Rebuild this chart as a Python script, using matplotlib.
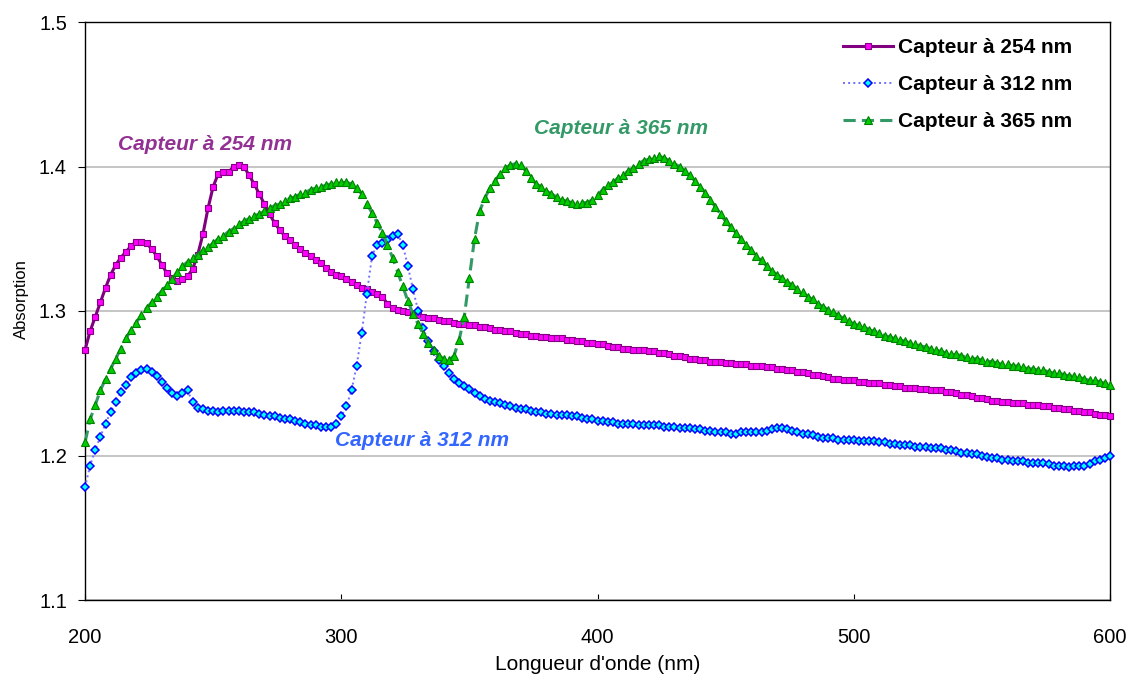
import numpy as np
import matplotlib
matplotlib.use("Agg")
import matplotlib.pyplot as plt

plt.rcParams['font.family'] = ['Liberation Sans', 'DejaVu Sans']

# longueurs d'onde (nm), un point tous les 2 nm
longueur = np.arange(200, 601, 2)

# Capteur à 254 nm
capteur_254 = [
    1.273, 1.286, 1.296, 1.306, 1.316, 1.325, 1.332, 1.337, 1.341, 1.345,
    1.348, 1.348, 1.347, 1.343, 1.338, 1.332, 1.326, 1.323, 1.321, 1.322,
    1.324, 1.329, 1.339, 1.353, 1.371, 1.386, 1.395, 1.396, 1.396, 1.400,
    1.401, 1.400, 1.394, 1.388, 1.381, 1.374, 1.367, 1.361, 1.356, 1.352,
    1.349, 1.346, 1.343, 1.340, 1.338, 1.335, 1.333, 1.330, 1.327, 1.325,
    1.324, 1.322, 1.320, 1.318, 1.316, 1.315, 1.313, 1.312, 1.310, 1.305,
    1.302, 1.301, 1.300, 1.299, 1.298, 1.297, 1.296, 1.295, 1.295, 1.294,
    1.293, 1.293, 1.292, 1.291, 1.291, 1.290, 1.290, 1.289, 1.289, 1.288,
    1.287, 1.287, 1.286, 1.286, 1.285, 1.284, 1.284, 1.283, 1.283, 1.282,
    1.282, 1.281, 1.281, 1.281, 1.280, 1.280, 1.279, 1.279, 1.278, 1.278,
    1.277, 1.277, 1.276, 1.275, 1.275, 1.274, 1.274, 1.273, 1.273, 1.273,
    1.272, 1.272, 1.271, 1.271, 1.270, 1.269, 1.269, 1.268, 1.267, 1.267,
    1.266, 1.266, 1.265, 1.265, 1.265, 1.264, 1.264, 1.263, 1.263, 1.263,
    1.262, 1.262, 1.262, 1.261, 1.261, 1.260, 1.260, 1.259, 1.259, 1.258,
    1.258, 1.257, 1.256, 1.256, 1.255, 1.254, 1.253, 1.253, 1.252, 1.252,
    1.252, 1.251, 1.251, 1.250, 1.250, 1.250, 1.249, 1.249, 1.248, 1.248,
    1.247, 1.247, 1.247, 1.246, 1.246, 1.245, 1.245, 1.245, 1.244, 1.244,
    1.243, 1.242, 1.242, 1.241, 1.240, 1.240, 1.239, 1.238, 1.238, 1.237,
    1.237, 1.236, 1.236, 1.236, 1.235, 1.235, 1.235, 1.234, 1.234, 1.233,
    1.233, 1.232, 1.232, 1.231, 1.231, 1.230, 1.230, 1.229, 1.228, 1.228,
    1.227,
]

# Capteur à 312 nm
capteur_312 = [
    1.178, 1.193, 1.204, 1.213, 1.222, 1.230, 1.237, 1.244, 1.249, 1.254,
    1.257, 1.259, 1.260, 1.258, 1.255, 1.251, 1.247, 1.243, 1.241, 1.243,
    1.245, 1.237, 1.233, 1.232, 1.231, 1.231, 1.230, 1.231, 1.231, 1.231,
    1.231, 1.230, 1.230, 1.230, 1.229, 1.228, 1.227, 1.227, 1.226, 1.225,
    1.225, 1.224, 1.223, 1.222, 1.221, 1.221, 1.220, 1.220, 1.220, 1.222,
    1.227, 1.234, 1.245, 1.262, 1.285, 1.312, 1.338, 1.346, 1.347, 1.349,
    1.352, 1.353, 1.346, 1.331, 1.315, 1.300, 1.288, 1.279, 1.272, 1.266,
    1.262, 1.257, 1.253, 1.250, 1.248, 1.246, 1.243, 1.241, 1.239, 1.238,
    1.237, 1.236, 1.235, 1.234, 1.233, 1.232, 1.232, 1.231, 1.230, 1.230,
    1.229, 1.229, 1.228, 1.228, 1.228, 1.227, 1.227, 1.226, 1.225, 1.225,
    1.224, 1.224, 1.223, 1.223, 1.222, 1.222, 1.222, 1.222, 1.221, 1.221,
    1.221, 1.221, 1.221, 1.220, 1.220, 1.220, 1.219, 1.219, 1.219, 1.218,
    1.218, 1.217, 1.217, 1.216, 1.216, 1.216, 1.215, 1.215, 1.216, 1.216,
    1.216, 1.216, 1.216, 1.217, 1.218, 1.219, 1.219, 1.218, 1.217, 1.216,
    1.215, 1.215, 1.214, 1.213, 1.212, 1.212, 1.212, 1.211, 1.211, 1.211,
    1.211, 1.210, 1.210, 1.210, 1.210, 1.209, 1.209, 1.208, 1.208, 1.207,
    1.207, 1.207, 1.206, 1.206, 1.206, 1.205, 1.205, 1.205, 1.204, 1.204,
    1.203, 1.202, 1.202, 1.201, 1.201, 1.200, 1.199, 1.198, 1.198, 1.197,
    1.197, 1.196, 1.196, 1.196, 1.195, 1.195, 1.195, 1.195, 1.194, 1.193,
    1.193, 1.193, 1.192, 1.193, 1.193, 1.193, 1.194, 1.196, 1.197, 1.198,
    1.200,
]

# Capteur à 365 nm
capteur_365 = [
    1.209, 1.225, 1.235, 1.245, 1.253, 1.260, 1.267, 1.274, 1.281, 1.287,
    1.292, 1.297, 1.302, 1.306, 1.310, 1.314, 1.318, 1.322, 1.327, 1.331,
    1.334, 1.337, 1.339, 1.342, 1.344, 1.347, 1.350, 1.352, 1.355, 1.357,
    1.360, 1.362, 1.364, 1.366, 1.367, 1.369, 1.371, 1.373, 1.374, 1.376,
    1.378, 1.379, 1.381, 1.382, 1.384, 1.385, 1.386, 1.387, 1.388, 1.389,
    1.389, 1.389, 1.388, 1.385, 1.381, 1.374, 1.368, 1.361, 1.354, 1.346,
    1.337, 1.327, 1.317, 1.307, 1.298, 1.291, 1.284, 1.278, 1.273, 1.269,
    1.267, 1.266, 1.269, 1.280, 1.296, 1.323, 1.350, 1.369, 1.378, 1.385,
    1.390, 1.395, 1.399, 1.401, 1.402, 1.401, 1.397, 1.392, 1.388, 1.386,
    1.383, 1.381, 1.379, 1.377, 1.376, 1.375, 1.374, 1.375, 1.375, 1.377,
    1.380, 1.384, 1.387, 1.389, 1.392, 1.394, 1.397, 1.399, 1.402, 1.404,
    1.405, 1.406, 1.407, 1.406, 1.404, 1.402, 1.400, 1.397, 1.394, 1.390,
    1.386, 1.382, 1.377, 1.372, 1.367, 1.362, 1.358, 1.354, 1.350, 1.346,
    1.342, 1.338, 1.335, 1.331, 1.328, 1.325, 1.323, 1.320, 1.318, 1.315,
    1.313, 1.310, 1.308, 1.305, 1.303, 1.301, 1.299, 1.297, 1.295, 1.293,
    1.291, 1.290, 1.289, 1.287, 1.286, 1.285, 1.283, 1.282, 1.281, 1.280,
    1.279, 1.278, 1.277, 1.276, 1.275, 1.274, 1.273, 1.272, 1.271, 1.270,
    1.270, 1.269, 1.268, 1.267, 1.267, 1.266, 1.265, 1.265, 1.264, 1.263,
    1.263, 1.262, 1.262, 1.261, 1.260, 1.260, 1.259, 1.259, 1.258, 1.257,
    1.257, 1.256, 1.255, 1.255, 1.254, 1.253, 1.252, 1.252, 1.251, 1.250,
    1.249,
]

noms = ["Capteur à 254 nm", "Capteur à 312 nm", "Capteur à 365 nm"]

fig = plt.figure(figsize=(11.3, 6.74), dpi=100)
ax = fig.add_axes([85 / 1130, 1 - 600 / 674, 1025 / 1130, 578 / 674])

ax.plot(longueur, capteur_254, color='#800080', lw=2.2, marker='s', ms=5,
        mfc='#FF00FF', mec='#800080', mew=0.8, label=noms[0], clip_on=False, zorder=3)
ax.plot(longueur, capteur_312, color='#7070FF', lw=1.4, ls=':', marker='D', ms=4,
        mfc='#00FFFF', mec='#0000FF', mew=1.1, label=noms[1], clip_on=False, zorder=4)
ax.plot(longueur, capteur_365, color='#339966', lw=2.2, ls=(0, (4, 2)), marker='^', ms=5.6,
        mfc='#00CC00', mec='#008000', mew=0.8, label=noms[2], clip_on=False, zorder=5)

ax.set_xlim(200, 600)
ax.set_ylim(1.1, 1.5)
ax.set_xticks([200, 300, 400, 500, 600])
ax.set_yticks([1.1, 1.2, 1.3, 1.4, 1.5])
ax.set_yticklabels(["1.1", "1.2", "1.3", "1.4", "1.5"])
ax.grid(axis='y', color='#C0C0C0', lw=1.3)
ax.set_axisbelow(True)
for s in ax.spines.values():
    s.set_color('black')
    s.set_linewidth(1.0)
ax.tick_params(axis='x', direction='in', length=4, pad=20, labelsize=14.5)
ax.tick_params(axis='y', direction='out', length=5, pad=8, labelsize=14.5)

ax.set_xlabel("Longueur d'onde (nm)", fontsize=15)
ax.xaxis.set_label_coords(0.5, -0.095)
ax.set_ylabel("Absorption", fontsize=12)
ax.yaxis.set_label_coords(-0.055, 0.52)

ax.text(212.9, 1.415, noms[0], color='#933093', fontsize=15, fontweight='bold',
        style='italic', va='center')
ax.text(297.5, 1.2107, noms[1], color='#3366FF', fontsize=15, fontweight='bold',
        style='italic', va='center')
ax.text(375.3, 1.4266, noms[2], color='#339966', fontsize=15, fontweight='bold',
        style='italic', va='center')

leg = ax.legend(loc='upper left', bbox_to_anchor=(0.729, 0.99), frameon=False,
                prop={'weight': 'bold', 'size': 15}, handlelength=2.4,
                handletextpad=0.25, labelspacing=0.86, borderpad=0, markerscale=1.0)

fig.savefig("out.png", dpi=100)
